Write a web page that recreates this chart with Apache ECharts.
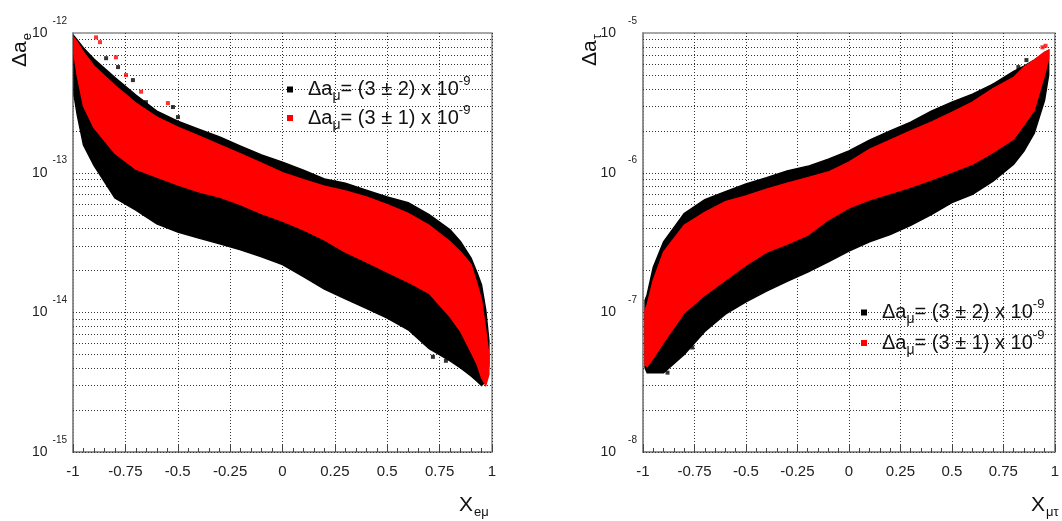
<!DOCTYPE html>
<html>
<head>
<meta charset="utf-8">
<script src="https://cdn.jsdelivr.net/npm/echarts@6/dist/echarts.min.js"></script>
<style>
html, body { margin: 0; padding: 0; background: #fff; }
#chart { width: 1062px; height: 521px; }
</style>
</head>
<body>
<div id="chart"></div>
<script>
// band edges (x, then upper / lower edge of each cloud)
var xLeft = [-0.995, -0.98, -0.95, -0.9, -0.8, -0.7, -0.6, -0.5, -0.4, -0.3, -0.2, -0.1, 0, 0.1, 0.2, 0.3, 0.4, 0.5, 0.6, 0.7, 0.8, 0.85, 0.9, 0.93, 0.95, 0.97, 0.985];
var blackUpLeft = [9.5e-13, 8.9e-13, 7.8e-13, 6.5e-13, 4.8e-13, 3.6e-13, 2.76e-13, 2.34e-13, 2.05e-13, 1.8e-13, 1.55e-13, 1.34e-13, 1.19e-13, 1.04e-13, 9.0e-14, 8.4e-14, 7.5e-14, 6.7e-14, 6.1e-14, 5.0e-14, 3.9e-14, 3.2e-14, 2.45e-14, 1.9e-14, 1.57e-14, 1.04e-14, 6.3e-15];
var blackLoLeft = [3.6e-13, 2.6e-13, 1.58e-13, 1.13e-13, 6.6e-14, 5.4e-14, 4.3e-14, 3.76e-14, 3.4e-14, 3.1e-14, 2.8e-14, 2.5e-14, 2.2e-14, 1.8e-14, 1.47e-14, 1.25e-14, 1.07e-14, 9.1e-15, 7.5e-15, 5.5e-15, 4.5e-15, 4.0e-15, 3.5e-15, 3.2e-15, 3.0e-15, 3.2e-15, 4.2e-15];
var redUpLeft = [9.2e-13, 8.6e-13, 7.3e-13, 5.8e-13, 4.2e-13, 3.15e-13, 2.5e-13, 2.12e-13, 1.83e-13, 1.58e-13, 1.36e-13, 1.17e-13, 1.0e-13, 8.9e-14, 8.0e-14, 7.4e-14, 6.7e-14, 5.9e-14, 5.1e-14, 4.2e-14, 3.2e-14, 2.7e-14, 2.2e-14, 1.57e-14, 1.22e-14, 7.5e-15, 4.9e-15];
var redLoLeft = [7.0e-13, 5.0e-13, 3.0e-13, 2.1e-13, 1.38e-13, 1.06e-13, 9.3e-14, 8.2e-14, 7.3e-14, 6.7e-14, 5.9e-14, 5.1e-14, 4.5e-14, 3.9e-14, 3.3e-14, 2.7e-14, 2.3e-14, 1.94e-14, 1.65e-14, 1.37e-14, 9.3e-15, 7.3e-15, 5.2e-15, 4.2e-15, 3.4e-15, 3.0e-15, 3.6e-15];

var xRight = [-0.99, -0.98, -0.95, -0.9, -0.8, -0.7, -0.6, -0.5, -0.4, -0.3, -0.2, -0.1, 0, 0.1, 0.2, 0.3, 0.4, 0.5, 0.6, 0.7, 0.8, 0.85, 0.9, 0.95, 0.97];
var blackUpRight = [1.22e-7, 1.33e-7, 2.1e-7, 3.2e-7, 5.1e-7, 6.4e-7, 7.3e-7, 8.3e-7, 9.2e-7, 1.03e-6, 1.11e-6, 1.25e-6, 1.43e-6, 1.71e-6, 1.99e-6, 2.3e-6, 2.76e-6, 3.2e-6, 3.65e-6, 4.3e-6, 5.3e-6, 5.8e-6, 6.4e-6, 7.2e-6, 7.5e-6];
var blackLoRight = [4.0e-8, 3.7e-8, 3.7e-8, 3.7e-8, 5.0e-8, 7.3e-8, 9.7e-8, 1.19e-7, 1.42e-7, 1.67e-7, 1.94e-7, 2.3e-7, 2.75e-7, 3.2e-7, 3.6e-7, 4.2e-7, 5.0e-7, 6.1e-7, 7.0e-7, 8.7e-7, 1.15e-6, 1.43e-6, 1.92e-6, 3.3e-6, 5.0e-6];
var redUpRight = [1.04e-7, 1.13e-7, 1.7e-7, 2.7e-7, 4.2e-7, 5.2e-7, 6.2e-7, 6.8e-7, 7.6e-7, 8.4e-7, 9.2e-7, 1.01e-6, 1.19e-6, 1.47e-6, 1.71e-6, 1.99e-6, 2.3e-6, 2.7e-6, 3.2e-6, 4.0e-6, 4.8e-6, 5.7e-6, 6.4e-6, 7.3e-6, 7.5e-6];
var redLoRight = [4.2e-8, 4.1e-8, 4.7e-8, 6.1e-8, 9.9e-8, 1.33e-7, 1.7e-7, 2.18e-7, 2.7e-7, 3.08e-7, 3.58e-7, 4.6e-7, 5.6e-7, 6.4e-7, 7.1e-7, 7.9e-7, 8.9e-7, 1.01e-6, 1.15e-6, 1.4e-6, 1.74e-6, 2.2e-6, 2.8e-6, 5.0e-6, 6.6e-6];

// stray points outside the dense clouds
var strayBlackLeft = [[-0.842, 6.6e-13], [-0.785, 5.7e-13], [-0.714, 4.6e-13], [-0.652, 3.2e-13], [-0.523, 2.95e-13], [-0.499, 2.5e-13], [0.718, 4.8e-15], [0.78, 4.5e-15]];
var strayRedLeft = [[-0.89, 9.3e-13], [-0.871, 8.6e-13], [-0.795, 6.7e-13], [-0.747, 5.0e-13], [-0.675, 3.8e-13], [-0.547, 3.15e-13]];
var strayBlackRight = [[0.308, 2.19e-6], [0.623, 3.2e-6], [0.704, 4.2e-6], [0.752, 4.6e-6], [0.823, 5.7e-6], [0.862, 6.4e-6], [-0.881, 3.7e-8], [-0.761, 5.6e-8]];
var strayRedRight = [[0.94, 7.9e-6], [0.955, 8.1e-6]];

var naiveLeft = 6.8e-14;
var naiveRight = 7.8e-7;
var decadesLeft = [1e-15, 1e-14, 1e-13];
var decadesRight = [1e-8, 1e-7, 1e-6];
var gridMultiples = [1, 2, 3, 4, 5, 6, 7, 8, 9];
var legendErr = { pm2: '2', pm1: '1' };

var FONT = 'Liberation Sans, Arial, sans-serif';
var chart = echarts.init(document.getElementById('chart'));

function gridValues(decades) {
  var out = [];
  decades.forEach(function (d) {
    gridMultiples.forEach(function (m) { out.push([-1, m * d]); });
  });
  return out;
}

function band(name, color, xs, up, lo, idx, z) {
  return {
    type: 'custom', name: name, xAxisIndex: idx, yAxisIndex: idx, z: z,
    silent: true,
    itemStyle: { color: color },
    data: xs.map(function (x, i) { return [x, up[i]]; }),
    renderItem: function (params, api) {
      if (params.dataIndex !== 0) return;
      var pts = [];
      for (var i = 0; i < xs.length; i++) pts.push(api.coord([xs[i], up[i]]));
      for (var j = xs.length - 1; j >= 0; j--) pts.push(api.coord([xs[j], lo[j]]));
      return { type: 'polygon', shape: { points: pts }, style: { fill: color, stroke: color, lineWidth: 1.5 } };
    }
  };
}

function stray(name, color, pts, idx, z) {
  return {
    type: 'scatter', name: name, xAxisIndex: idx, yAxisIndex: idx, z: z, silent: true,
    symbol: 'rect', symbolSize: 4, itemStyle: { color: color }, data: pts
  };
}

// dotted horizontal grid at 1..9 x each decade
function gridLines(idx, decades) {
  return {
    type: 'custom', xAxisIndex: idx, yAxisIndex: idx, z: 1, silent: true,
    data: gridValues(decades),
    renderItem: function (params, api) {
      var a = api.coord([-1, api.value(1)]);
      var b = api.coord([1, api.value(1)]);
      var y = Math.round(a[1]) + 0.5;
      return {
        type: 'line', shape: { x1: a[0], y1: y, x2: b[0], y2: y },
        style: { stroke: '#333', lineWidth: 1, lineDash: [1, 2] }
      };
    }
  };
}

function naiveLine(idx, val, pos) {
  return {
    type: 'line', xAxisIndex: idx, yAxisIndex: idx, data: [], z: 10, silent: true,
    markLine: {
      silent: true, symbol: 'none', animation: false,
      lineStyle: { color: '#111', type: 'solid', width: 1.2 },
      label: {
        show: true, position: pos, formatter: 'naive scaling',
        fontFamily: FONT, fontSize: 22, color: '#111', distance: 3
      },
      data: [{ yAxis: val }]
    }
  };
}

function xAxis(idx) {
  return {
    type: 'value', gridIndex: idx, min: -1, max: 1, interval: 0.25,
    axisLine: { show: true, onZero: false, lineStyle: { color: '#8a8a8a', width: 1.5 } },
    axisTick: { show: true, inside: true, length: 8, lineStyle: { color: '#444' } },
    minorTick: { show: true, splitNumber: 5, length: 4, lineStyle: { color: '#444' } },
    splitLine: { show: true, lineStyle: { color: '#333', type: [1, 2], width: 1 } },
    axisLabel: { fontFamily: FONT, fontSize: 15, color: '#222', margin: 12, showMinLabel: true, showMaxLabel: true }
  };
}

function yAxis(idx, min, max, supGap) {
  return {
    type: 'log', logBase: 10, gridIndex: idx, min: min, max: max,
    axisLine: { show: true, onZero: false, lineStyle: { color: '#8a8a8a', width: 1.5 } },
    axisTick: { show: false },
    splitLine: { show: false },
    axisLabel: {
      margin: 6, showMinLabel: true, showMaxLabel: true,
      formatter: function (v) {
        return '{b|10}{s|' + Math.round(Math.log10(v)) + '}';
      },
      rich: {
        b: { fontFamily: FONT, fontSize: 14, color: '#222' },
        s: { fontFamily: FONT, fontSize: 10, color: '#222', padding: [0, 0, 24, supGap] }
      }
    }
  };
}

function legend(left, top, gap) {
  return {
    left: left, top: top, orient: 'vertical', itemGap: gap,
    itemWidth: 6, itemHeight: 6, icon: 'rect', selectedMode: false,
    data: [
      { name: 'pm2', itemStyle: { color: '#000' } },
      { name: 'pm1', itemStyle: { color: '#ff0000' } }
    ],
    formatter: function (name) {
      return '{f|Δa}{m|μ}{a|= (3 ± ' + legendErr[name] + ') x 10}{p|-9}';
    },
    textStyle: {
      rich: {
        f: { fontFamily: FONT, fontSize: 20, color: '#111', padding: [0, 0, 0, 10] },
        a: { fontFamily: FONT, fontSize: 20, color: '#111' },
        m: { fontFamily: FONT, fontSize: 14, color: '#111', padding: [14, 0, 0, 0] },
        p: { fontFamily: FONT, fontSize: 13, color: '#111', padding: [0, 0, 16, 0] }
      }
    }
  };
}

function title(x, y, main, sub, rotate) {
  return {
    type: 'text', x: x, y: y, rotation: rotate ? Math.PI / 2 : 0,
    style: {
      text: '{a|' + main + '}{s|' + sub + '}',
      align: rotate ? 'center' : 'left', verticalAlign: 'middle',
      rich: {
        a: { fontFamily: FONT, fontSize: 21, fill: '#111' },
        s: { fontFamily: FONT, fontSize: 13, fill: '#111', padding: [14, 0, 0, 1] }
      }
    }
  };
}

chart.setOption({
  animation: false,
  backgroundColor: '#fff',
  grid: [
    { left: 73, top: 33, width: 419, height: 419, show: true, borderColor: '#8a8a8a', borderWidth: 1.5 },
    { left: 643, top: 33, width: 419, height: 419, show: true, borderColor: '#8a8a8a', borderWidth: 1.5 }
  ],
  xAxis: [xAxis(0), xAxis(1)],
  yAxis: [yAxis(0, 1e-15, 1e-12, 5), yAxis(1, 1e-8, 1e-5, 12)],
  legend: [legend(282, 70, 0), legend(856, 293, 2)],
  graphic: [
    title(20, 50, 'Δa', 'e', true),
    title(590, 50, 'Δa', 'τ', true),
    title(459, 505, 'X', 'eμ', false),
    title(1031, 505, 'X', 'μτ', false)
  ],
  series: [
    gridLines(0, decadesLeft),
    gridLines(1, decadesRight),
    band('pm2', '#000', xLeft, blackUpLeft, blackLoLeft, 0, 3),
    band('pm1', '#ff0000', xLeft, redUpLeft, redLoLeft, 0, 5),
    band('pm2', '#000', xRight, blackUpRight, blackLoRight, 1, 3),
    band('pm1', '#ff0000', xRight, redUpRight, redLoRight, 1, 5),
    stray('pm2', '#000', strayBlackLeft, 0, 4),
    stray('pm1', '#ff0000', strayRedLeft, 0, 6),
    stray('pm2', '#000', strayBlackRight, 1, 4),
    stray('pm1', '#ff0000', strayRedRight, 1, 6),
    naiveLine(0, naiveLeft, 'insideEndTop'),
    naiveLine(1, naiveRight, 'insideStartTop')
  ]
});
</script>
</body>
</html>
